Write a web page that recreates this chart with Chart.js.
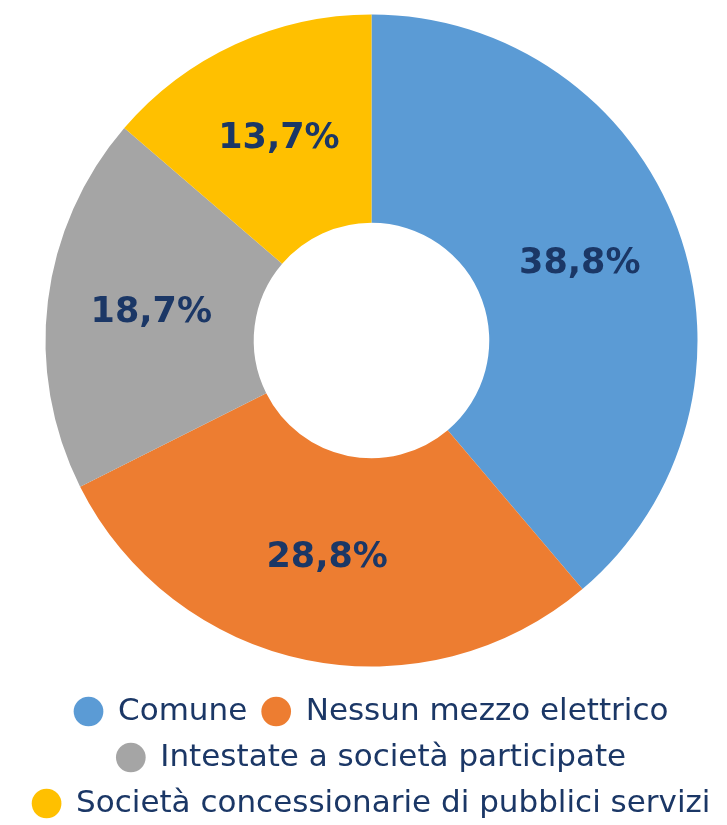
<!DOCTYPE html>
<html>
<head>
<meta charset="utf-8">
<script src="https://cdn.jsdelivr.net/npm/chart.js@4"></script>
<style>
  html, body { margin: 0; padding: 0; background: #ffffff; }
  #wrap { width: 727px; height: 825px; }
</style>
</head>
<body>
<div id="wrap"><canvas id="pieChart" width="727" height="825"></canvas></div>
<script>
// categories and values (percent)
const labels = ['Comune', 'Nessun mezzo elettrico', 'Intestate a società participate', 'Società concessionarie di pubblici servizi'];
const values = [38.8, 28.8, 18.7, 13.7];
const colors = ['#5B9BD5', '#ED7D31', '#A5A5A5', '#FFC000'];
const textColor = '#1B3766';

// draws the percentage in the middle of each slice
const sliceLabels = {
    id: 'sliceLabels',
    afterDatasetsDraw(chart) {
        const ctx = chart.ctx;
        const meta = chart.getDatasetMeta(0);
        ctx.save();
        ctx.font = 'bold 35px "DejaVu Sans"';
        ctx.fillStyle = textColor;
        ctx.textAlign = 'center';
        ctx.textBaseline = 'middle';
        meta.data.forEach((arc, i) => {
            const pos = arc.tooltipPosition();
            ctx.fillText(values[i].toFixed(1).replace('.', ',') + '%', pos.x, pos.y);
        });
        ctx.restore();
    }
};

function renderChart() {
    const ctx = document.getElementById('pieChart').getContext('2d');
    new Chart(ctx, {
        type: 'doughnut',
        data: {
            labels: labels,
            datasets: [{
                data: values,
                backgroundColor: colors,
                borderWidth: 0,
                radius: 326,
                cutout: 123
            }]
        },
        options: {
            responsive: false,
            animation: false,
            layout: { padding: { top: -12, left: 16, right: 0, bottom: -4 } },
            plugins: {
                tooltip: { enabled: false },
                legend: {
                    position: 'bottom',
                    labels: {
                        usePointStyle: true,
                        pointStyle: 'circle',
                        boxWidth: 28,
                        boxHeight: 21,
                        padding: 15,
                        color: textColor,
                        font: { family: '"DejaVu Sans"', size: 31 }
                    }
                }
            }
        },
        plugins: [sliceLabels]
    });
}

window.onload = function() {
    renderChart();
};
</script>
</body>
</html>
